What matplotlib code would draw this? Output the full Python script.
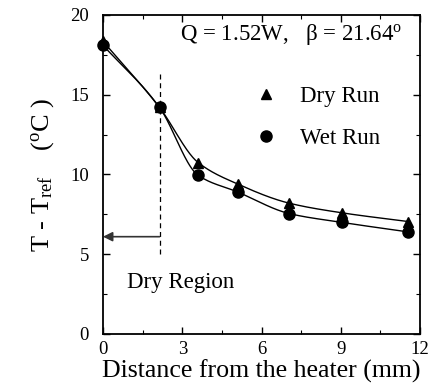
import numpy as np
import matplotlib
matplotlib.use('Agg')
import matplotlib.pyplot as plt
from matplotlib.ticker import MultipleLocator

# data
distance = [0.0, 2.14, 3.6, 5.1, 7.05, 9.03, 11.55]
dry_run = [18.35, 14.2, 10.75, 9.4, 8.2, 7.6, 7.05]
wet_run = [18.1, 14.2, 9.95, 8.9, 7.55, 7.0, 6.4]

dry_edge = 2.14      # end of the dry region (mm)
arrow_level = 6.1
dash_range = (5.0, 16.4)

plt.rcParams['font.family'] = ['Liberation Serif', 'DejaVu Serif']
plt.rcParams['mathtext.fontset'] = 'custom'
plt.rcParams['mathtext.rm'] = 'Liberation Serif'
plt.rcParams['mathtext.it'] = 'Liberation Serif:italic'


def pchip(x, y, xs):
    """
    Monotone cubic Hermite curve through the points (for drawing only).
    """
    x = np.asarray(x, float)
    y = np.asarray(y, float)
    h = np.diff(x)
    d = np.diff(y) / h
    m = np.zeros_like(y)
    for k in range(1, len(x) - 1):
        if d[k - 1] * d[k] > 0:
            w1 = 2 * h[k] + h[k - 1]
            w2 = h[k] + 2 * h[k - 1]
            m[k] = (w1 + w2) / (w1 / d[k - 1] + w2 / d[k])
    m[0] = d[0]
    m[-1] = d[-1]
    idx = np.clip(np.searchsorted(x, xs) - 1, 0, len(x) - 2)
    t = (xs - x[idx]) / h[idx]
    h00 = 2 * t**3 - 3 * t**2 + 1
    h10 = t**3 - 2 * t**2 + t
    h01 = -2 * t**3 + 3 * t**2
    h11 = t**3 - t**2
    return h00 * y[idx] + h10 * h[idx] * m[idx] + h01 * y[idx + 1] + h11 * h[idx] * m[idx + 1]


fig = plt.figure(figsize=(4.33, 3.85), dpi=100)
ax = fig.add_axes([0.2379, 0.1325, 0.7321, 0.8286])

xs = np.linspace(distance[0], distance[-1], 300)
ax.plot(xs, pchip(distance, dry_run, xs), color='black', lw=1.0)
ax.plot(xs, pchip(distance, wet_run, xs), color='black', lw=1.0)
ax.plot(distance, dry_run, '^', color='black', ms=7, label='Dry Run', clip_on=False)
ax.plot(distance, wet_run, 'o', color='black', ms=8, label='Wet Run', clip_on=False)

# dry region marker
ax.vlines(dry_edge, dash_range[0], dash_range[1], colors='black',
          linestyles=(0, (4, 3)), lw=0.9)
ax.annotate('', xy=(0, arrow_level), xytext=(dry_edge, arrow_level),
            arrowprops=dict(arrowstyle='-|>', color='#333333', lw=1.2,
                            mutation_scale=14, shrinkA=0, shrinkB=0))
ax.text(0.9, 3.2, 'Dry Region', fontsize=16.5, va='center', ha='left')

ax.text(0.243, 0.94, 'Q = 1.52W,   β = 21.64$^{\\rm o}$', transform=ax.transAxes,
        fontsize=16.5, va='center', ha='left')

ax.legend(loc='upper left', bbox_to_anchor=(0.483, 0.778), frameon=False,
          fontsize=16.5, handlelength=0.9, handletextpad=1.0, labelspacing=0.92,
          borderpad=0, borderaxespad=0)

ax.set_xlim(0, 12)
ax.set_ylim(0, 20)
ax.xaxis.set_major_locator(MultipleLocator(3))
ax.xaxis.set_minor_locator(MultipleLocator(1.5))
ax.yaxis.set_major_locator(MultipleLocator(5))
ax.yaxis.set_minor_locator(MultipleLocator(2.5))
ax.tick_params(which='both', direction='in', top=True, right=True, labelsize=13.5)
ax.tick_params(which='major', length=5, width=1)
ax.tick_params(which='minor', length=3, width=0.8)
ax.tick_params(axis='y', which='both', pad=10)
ax.tick_params(axis='x', which='both', pad=5)
for s in ax.spines.values():
    s.set_linewidth(1.3)

ax.set_xlabel('Distance from the heater (mm)', fontsize=18.6, labelpad=1)
ax.set_ylabel('T - T$_{\\rm ref}$    ($^{\\rm o}$C )', fontsize=19, labelpad=10)

fig.savefig('out.png', dpi=100)
